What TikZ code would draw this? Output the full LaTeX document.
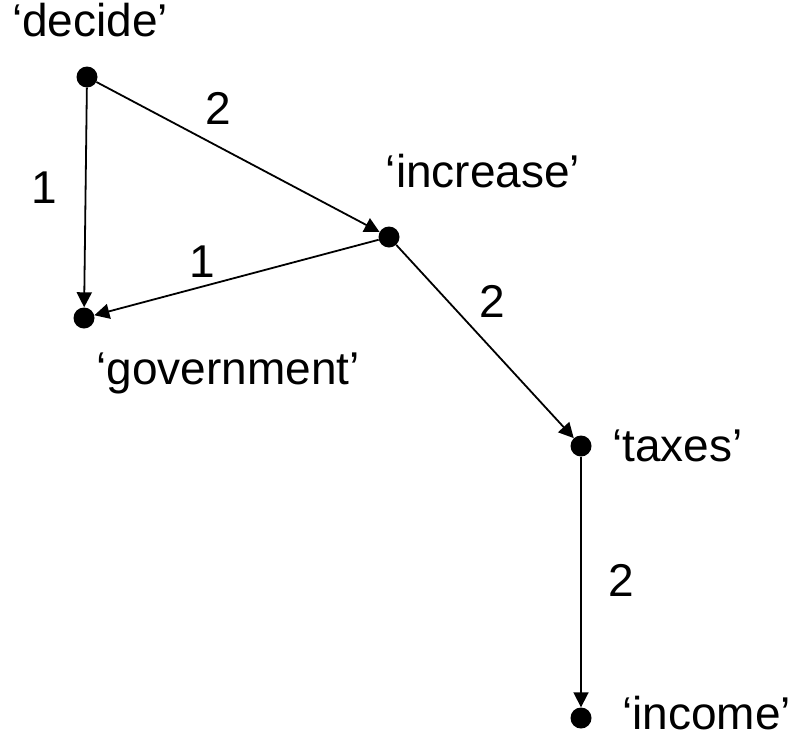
\documentclass[tikz,border=0pt]{standalone}
\usepackage{fontspec}
\setmainfont{Liberation Sans}
\usetikzlibrary{arrows.meta}

\begin{document}
\begin{tikzpicture}[x=1pt,y=-1pt,>={Triangle[length=15pt,width=15pt]},
  every node/.style={font=\fontsize{46}{54}\selectfont,inner sep=0pt},
  dot/.style={circle,fill=black,inner sep=0pt,minimum size=21pt},
  link/.style={->,line width=1.8pt}]
\useasboundingbox (0,0) rectangle (803,739);
% word dots
\node[dot] (decide) at (87,77) {};
\node[dot] (govt) at (84,318) {};
\node[dot] (incr) at (389,237) {};
\node[dot] (taxes) at (581,446) {};
\node[dot] (income) at (581,718) {};
% word labels
\node (decidelab) at (90,20) {‘decide’};
\node (govtlab) at (228,373) {‘government’};
\node (incrlab) at (483,171) {‘increase’};
\node[anchor=west] (taxeslab) at (612,446) {‘taxes’};
\node[anchor=west] (incomelab) at (622,713) {‘income’};
% links
\draw[link] (decide) -- (govt);
\draw[link] (decide) -- (incr);
\draw[link] (incr) -- (govt);
\draw[link] (incr) -- (taxes);
\draw[link] (taxes) -- (income);
% link weights
\node (w1) at (44,188) {1};
\node (w2) at (218,108) {2};
\node (w3) at (202,262) {1};
\node (w4) at (492,301) {2};
\node (w5) at (621,580) {2};
\end{tikzpicture}
\end{document}
